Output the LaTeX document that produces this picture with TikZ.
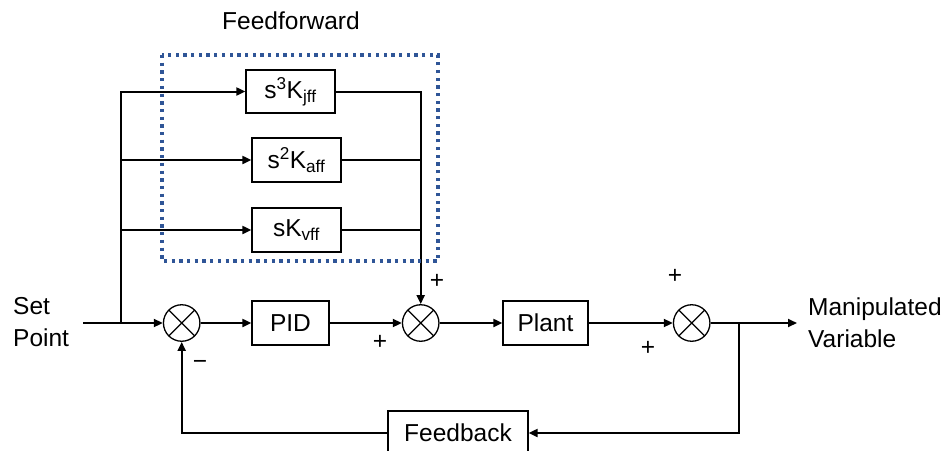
\documentclass[tikz,border=0pt]{standalone}
\usepackage{fontspec}
\setmainfont{Liberation Sans}
\usetikzlibrary{arrows.meta}

\begin{document}
\begin{tikzpicture}[x=1pt,y=-1pt,
  lbl/.style={font=\fontsize{24.5}{32}\selectfont, inner sep=0pt},
  blk/.style={draw, line width=1.3pt, lbl, minimum height=44pt},
  sumj/.style={draw, circle, line width=1.3pt, minimum size=36.5pt, inner sep=0pt,
    path picture={\draw[line width=1.3pt]
      (path picture bounding box.north west) -- (path picture bounding box.south east)
      (path picture bounding box.north east) -- (path picture bounding box.south west);}},
  wire/.style={line width=2pt},
  arr/.style={wire, -{Triangle[length=9pt,width=8pt]}},
  sign/.style={font=\fontsize{24.5}{28}\selectfont, inner sep=0pt},
  ffbox/.style={draw=ffblue, line width=3.3pt, dash pattern=on 3.3pt off 4.4pt}
]
\definecolor{ffblue}{RGB}{47,85,151}
\useasboundingbox (0,0) rectangle (948,450);
\fill[white] (0,0) rectangle (948,450);
\clip (0,0) rectangle (948,450);

% feedforward gains
\node[blk, minimum width=89pt, minimum height=43pt] (jff) at (290.5,91.5) {s\textsuperscript{3}K\textsubscript{jff}};
\node[blk, minimum width=89pt] (aff) at (296.5,160) {s\textsuperscript{2}K\textsubscript{aff}};
\node[blk, minimum width=89pt] (vff) at (296.5,230) {sK\textsubscript{vff}};

% main loop
\node[sumj] (sum1) at (181.7,323) {};
\node[blk, minimum width=77pt] (pid) at (290.5,323) {PID};
\node[sumj] (sum2) at (420.7,323) {};
\node[blk, minimum width=85pt] (plant) at (545.5,323) {Plant};
\node[sumj] (sum3) at (691.7,323) {};
\node[blk, minimum width=140pt] (fb) at (458,433) {Feedback};

% labels
\node[lbl, align=left, anchor=west] (sp) at (13,322) {Set\\Point};
\node[lbl, align=left, anchor=west] (mv) at (808,323) {Manipulated\\Variable};
\node[lbl] (ffl) at (291,21) {Feedforward};

% signs
\node[sign] (p1) at (437,281) {+};
\node[sign] (p2) at (380,342) {+};
\node[sign] (p3) at (675,276) {+};
\node[sign] (p4) at (648,348) {+};
\node[sign] (m1) at (200,365) {\char"2212};

% connectors
\coordinate (in) at (83,323);
\coordinate (br) at (121,323);
\coordinate (tap) at (739,323);
\coordinate (out) at (797,323);

\draw[arr] (in) -- (sum1.west);
\draw[arr] (br) |- (jff.west);
\draw[arr] (br |- aff.west) -- (aff.west);
\draw[arr] (br |- vff.west) -- (vff.west);
\draw[arr] (jff.east) -| (sum2.north);
\draw[wire] (aff.east) -- (aff.east -| sum2.north);
\draw[wire] (vff.east) -- (vff.east -| sum2.north);
\draw[arr] (sum1.east) -- (pid.west);
\draw[arr] (pid.east) -- (sum2.west);
\draw[arr] (sum2.east) -- (plant.west);
\draw[arr] (plant.east) -- (sum3.west);
\draw[arr] (sum3.east) -- (out);
\draw[arr] (tap) |- (fb.east);
\draw[arr] (fb.west) -| (sum1.south);

% feedforward group outline
\draw[ffbox] (162,55) rectangle (438,261);
\end{tikzpicture}
\end{document}
